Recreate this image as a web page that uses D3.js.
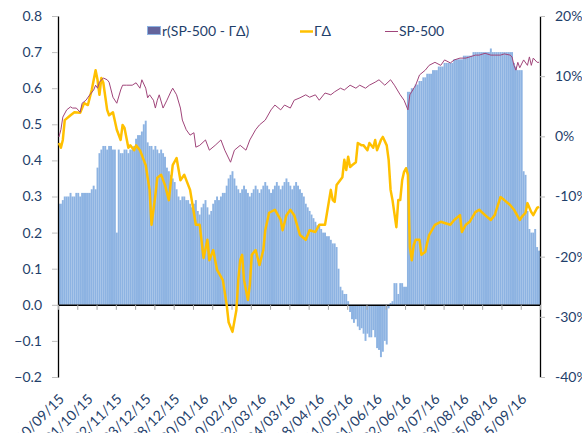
<!DOCTYPE html>
<html>
<head>
<meta charset="utf-8">
<script src="https://cdn.jsdelivr.net/npm/d3@7"></script>
<style>
  body { margin: 0; background: #fff; }
  svg { display: block; }
  text { font-family: Lato, "Open Sans", sans-serif; fill: #1f3f6b; }
</style>
</head>
<body>
<div id="chart"></div>
<script>
// category labels shown every 15 points, tick marks every 10
const tickLabels = ["10/09/15", "01/10/15", "02/11/15", "03/12/15", "28/12/15", "20/01/16",
  "10/02/16", "02/03/16", "24/03/16", "18/04/16", "11/05/16", "01/06/16", "22/06/16",
  "13/07/16", "03/08/16", "25/08/16", "15/09/16"];
const labelEvery = 15;
const tickEvery = 10;

// r(SP-500 - ГΔ), one value per trading day (left axis)
const corr = [
  0.28, 0.28, 0.29,
  0.30, 0.30, 0.30, 0.31, 0.30, 0.30, 0.31, 0.31, 0.30, 0.31, 0.31, 0.31, 0.31, 0.31,
  0.32, 0.33, 0.32,
  0.38, 0.42,
  0.43, 0.44, 0.44, 0.43, 0.44, 0.44, 0.43, 0.43,
  0.20,
  0.43, 0.42, 0.42, 0.43, 0.43,
  0.42, 0.43, 0.43, 0.44,
  0.46, 0.47, 0.47,
  0.48, 0.50, 0.51,
  0.45, 0.44, 0.44, 0.43, 0.44,
  0.43, 0.42, 0.43, 0.42, 0.41,
  0.38, 0.37, 0.36, 0.35, 0.34,
  0.32, 0.30, 0.29, 0.30,
  0.30, 0.29, 0.29, 0.28, 0.27, 0.28, 0.29, 0.26, 0.25, 0.27, 0.28, 0.29, 0.27, 0.25, 0.26, 0.28, 0.29, 0.30, 0.29, 0.30, 0.31,
  0.31, 0.33, 0.35, 0.36, 0.37, 0.35, 0.33,
  0.32, 0.31, 0.32, 0.33, 0.32, 0.31, 0.30, 0.31, 0.32, 0.33, 0.32, 0.31, 0.32, 0.33, 0.34, 0.33, 0.32,
  0.31, 0.32, 0.33, 0.34, 0.33, 0.32, 0.33, 0.34, 0.35, 0.34, 0.33, 0.32, 0.33, 0.34, 0.33, 0.32,
  0.31, 0.30, 0.28, 0.27, 0.26, 0.25, 0.24, 0.23, 0.22, 0.22, 0.21, 0.20, 0.20, 0.19,
  0.19, 0.18, 0.17, 0.17, 0.16, 0.10,
  0.05, 0.04, 0.03, 0.03, 0.01,
  -0.02, -0.04, -0.05, -0.04, -0.06, -0.07,
  -0.065, -0.08, -0.10, -0.08, -0.09, -0.09, -0.07, -0.09, -0.12, -0.125,
  -0.145, -0.13, -0.10, -0.11,
  -0.01, 0.005, 0.01,
  0.06, 0.06, 0.03, 0.06, 0.06, 0.05, 0.05,
  0.59,
  0.59, 0.60, 0.60, 0.61, 0.61, 0.62, 0.62, 0.63, 0.63,
  0.64, 0.64, 0.64, 0.65, 0.65, 0.65, 0.66, 0.66, 0.66, 0.67,
  0.67, 0.67, 0.67, 0.67, 0.68, 0.68, 0.68, 0.68, 0.68, 0.69, 0.69, 0.69,
  0.69, 0.69, 0.70, 0.70, 0.70, 0.70, 0.70, 0.70, 0.70, 0.70, 0.70, 0.71, 0.70, 0.70, 0.70, 0.70,
  0.70, 0.70, 0.70, 0.70, 0.70, 0.70, 0.70,
  0.67, 0.66, 0.65, 0.65, 0.65,
  0.37, 0.36, 0.26,
  0.21, 0.20, 0.20, 0.21,
  0.16, 0.15
];

// ГΔ in % (right axis), [day index, value]
const gammaDelta = [
  [0, -1.1], [1, -1.9], [2, -0.6], [3, 2.7], [6, 3.5], [8, 4.0], [11, 3.9], [13, 5.5], [15, 5.2],
  [17, 7.7], [19, 11.0], [20, 9.4], [21, 6.9], [22, 9.7], [23, 8.9], [25, 4.4], [26, 3.5], [28, 4.0],
  [30, 1.1], [32, -0.6], [33, 1.9], [34, 1.4], [36, -1.9], [37, -1.5], [39, -2.3], [40, -1.5],
  [42, -2.3], [45, -4.8], [47, -8.9], [48, -14.7], [50, -9.8], [51, -6.9], [53, -6.4], [55, -8.1],
  [57, -10.6], [59, -4.8], [61, -3.6], [63, -7.3], [65, -6.4], [68, -8.9], [71, -14.7], [73, -14.7],
  [75, -20.2], [77, -17.2], [78, -20.6], [80, -18.9], [82, -22.2], [85, -23.9], [87, -28.0],
  [88, -30.9], [90, -32.5], [92, -28.9], [93, -23.9], [94, -20.6], [95, -19.7], [96, -23.9],
  [98, -27.2], [99, -24.7], [100, -19.7], [102, -18.9], [104, -21.4], [106, -18.9], [107, -15.6],
  [109, -12.7], [112, -12.2], [115, -13.9], [116, -15.6], [118, -13.1], [120, -12.2], [122, -13.1],
  [125, -16.4], [128, -17.2], [130, -15.6], [133, -15.9], [135, -14.7], [138, -14.7], [141, -8.9],
  [142, -10.6], [143, -10.9], [144, -8.1], [147, -6.8], [148, -3.9], [149, -5.6], [150, -3.4],
  [151, -5.1], [152, -4.8], [154, -4.3], [155, -1.1], [157, -1.5], [158, -1.5], [160, -2.3],
  [161, -1.1], [163, -1.9], [164, -0.6], [165, -2.3], [167, -0.6], [168, -0.1], [170, -1.5],
  [171, -3.9], [172, -8.9], [173, -10.6], [175, -15.1], [176, -10.6], [177, -10.6], [178, -7.3],
  [179, -5.9], [180, -5.3], [181, -6.4], [182, -18.4], [183, -20.6], [184, -18.1], [185, -17.2],
  [187, -17.2], [188, -19.7], [190, -19.2], [191, -17.7], [192, -16.4], [195, -14.7], [198, -14.2],
  [200, -14.4], [203, -14.7], [205, -13.9], [208, -13.1], [209, -15.9], [211, -14.7], [213, -14.2],
  [216, -12.6], [218, -12.2], [221, -13.1], [224, -13.9], [226, -13.1], [229, -10.1], [231, -10.6],
  [234, -11.4], [236, -12.2], [239, -13.9], [240, -13.4], [242, -12.7], [243, -11.1], [245, -12.6],
  [246, -13.1], [248, -11.9], [249, -11.7]
];

// SP-500 in % (right axis), [day index, value]
const sp500 = [
  [0, -0.1], [1, 1.1], [2, 3.2], [4, 4.4], [6, 4.9], [7, 4.7], [9, 4.7], [11, 4.0], [12, 5.5],
  [14, 6.0], [16, 6.9], [18, 7.7], [19, 8.5], [20, 8.0], [21, 9.0], [23, 9.7], [25, 9.4], [26, 9.0],
  [28, 6.5], [30, 5.5], [32, 7.7], [33, 8.5], [35, 8.5], [38, 8.5], [40, 8.9], [42, 8.0], [43, 9.4],
  [45, 8.0], [46, 6.4], [47, 6.9], [49, 6.0], [50, 4.7], [51, 6.0], [52, 6.9], [54, 4.7], [56, 6.0],
  [58, 7.4], [59, 8.0], [61, 6.9], [63, 4.7], [64, 2.7], [66, 1.1], [68, 0.2], [70, 0.6], [71, -1.8],
  [73, -1.5], [76, -0.6], [78, -2.3], [81, -1.5], [84, -0.6], [86, -2.3], [89, -4.3], [91, -2.3],
  [94, -1.5], [97, -2.3], [99, -0.6], [102, 1.1], [104, 1.9], [107, 2.7], [110, 4.4], [112, 5.2],
  [115, 4.4], [117, 5.2], [120, 4.7], [122, 6.0], [125, 6.4], [128, 6.9], [130, 6.5], [133, 6.9],
  [135, 6.0], [138, 7.2], [141, 6.9], [143, 7.4], [146, 8.0], [148, 7.7], [151, 8.5], [154, 8.0],
  [156, 8.5], [159, 8.0], [161, 8.5], [164, 9.0], [166, 9.4], [169, 8.5], [172, 9.4], [174, 8.5],
  [177, 6.9], [179, 6.0], [181, 4.4], [182, 6.9], [185, 8.5], [187, 10.2], [190, 11.0], [192, 11.8],
  [195, 12.3], [198, 11.8], [200, 12.7], [203, 12.2], [205, 12.7], [208, 13.0], [211, 13.0],
  [213, 13.2], [216, 13.5], [218, 13.5], [221, 13.8], [224, 13.5], [226, 13.5], [229, 13.5],
  [231, 13.7], [234, 13.5], [235, 13.2], [236, 11.8], [237, 11.0], [238, 12.3], [239, 11.4],
  [241, 12.7], [243, 11.8], [244, 13.2], [245, 11.8], [246, 13.0], [248, 12.3], [249, 12.3]
];

const leftTicks = [0.8, 0.7, 0.6, 0.5, 0.4, 0.3, 0.2, 0.1, 0.0, -0.1, -0.2];
const rightTicks = [20, 10, 0, -10, -20, -30, -40];

const width = 582, height = 433;
const plot = { left: 58, right: 540, top: 16, bottom: 377 };

const svg = d3.select("#chart")
    .append("svg")
    .attr("width", width)
    .attr("height", height);

const x = d3.scaleBand()
    .domain(d3.range(corr.length))
    .range([plot.left, plot.right])
    .padding(0);
const xEdge = d3.scaleLinear()
    .domain([0, corr.length])
    .range([plot.left, plot.right]);
const yL = d3.scaleLinear().domain([-0.2, 0.8]).range([plot.bottom, plot.top]);
const yR = d3.scaleLinear().domain([-40, 20]).range([plot.bottom, plot.top]);

// bars
svg.append("g")
    .selectAll("rect")
    .data(corr)
    .enter()
    .append("rect")
    .attr("x", (d, i) => x(i))
    .attr("width", x.bandwidth())
    .attr("y", d => Math.min(yL(d), yL(0)))
    .attr("height", d => Math.abs(yL(d) - yL(0)))
    .attr("fill", "#8db3e2");

// left axis
const gL = svg.append("g")
    .attr("transform", "translate(" + plot.left + ",0)")
    .call(d3.axisLeft(yL).tickValues(leftTicks).tickFormat(d3.format(".1f"))
      .tickSize(6).tickSizeOuter(0).tickPadding(10));
// right axis
const gR = svg.append("g")
    .attr("transform", "translate(" + plot.right + ",0)")
    .call(d3.axisRight(yR).tickValues(rightTicks).tickFormat(d => d + "%")
      .tickSize(5).tickSizeOuter(0).tickPadding(10));
[gL, gR].forEach(g => {
  g.select(".domain").attr("stroke", "#000").attr("stroke-width", 1.3);
  g.selectAll(".tick line").attr("stroke", "#bfbfbf");
  g.selectAll(".tick text").attr("font-size", 14).attr("fill", "#1f3f6b")
    .style("font-family", "Lato, 'Open Sans', sans-serif");
});

// category axis on the zero line
const gX = svg.append("g")
    .attr("transform", "translate(0," + yL(0) + ")")
    .call(d3.axisBottom(xEdge).tickValues(d3.range(0, corr.length + 1, tickEvery))
      .tickSize(5).tickSizeOuter(0).tickFormat(""));
gX.select(".domain").attr("stroke", "#000").attr("stroke-width", 1.5);
gX.selectAll(".tick line").attr("stroke", "#a6a6a6");

svg.append("g")
    .selectAll("text")
    .data(tickLabels)
    .enter()
    .append("text")
    .attr("text-anchor", "end")
    .attr("font-size", 14)
    .attr("transform", (d, k) => {
      const cx = x(1 + k * labelEvery) + x.bandwidth() / 2 + 4;
      return "translate(" + cx + ",400) rotate(-45)";
    })
    .text(d => d);

// lines
const line = d3.line()
    .x(d => x(d[0]) + x.bandwidth() / 2)
    .y(d => yR(d[1]));

svg.append("path")
    .datum(gammaDelta)
    .attr("d", line)
    .attr("fill", "none")
    .attr("stroke", "#ffc000")
    .attr("stroke-width", 2.5)
    .attr("stroke-linejoin", "round");

svg.append("path")
    .datum(sp500)
    .attr("d", line)
    .attr("fill", "none")
    .attr("stroke", "#a0457a")
    .attr("stroke-width", 1);

// legend
const legend = svg.append("g").attr("font-size", 14);
legend.append("rect")
    .attr("x", 147.5).attr("y", 26.5).attr("width", 13).attr("height", 8)
    .attr("fill", "#64649c").attr("stroke", "#8db3e2");
legend.append("text").attr("x", 162).attr("y", 36).text("r(SP-500 - ГΔ)");
legend.append("line")
    .attr("x1", 300).attr("x2", 313).attr("y1", 31.5).attr("y2", 31.5)
    .attr("stroke", "#ffc000").attr("stroke-width", 2.5);
legend.append("text").attr("x", 314).attr("y", 36).text("ГΔ");
legend.append("line")
    .attr("x1", 385).attr("x2", 398).attr("y1", 31.5).attr("y2", 31.5)
    .attr("stroke", "#a0457a").attr("stroke-width", 1);
legend.append("text").attr("x", 399).attr("y", 36).text("SP-500");
</script>
</body>
</html>
